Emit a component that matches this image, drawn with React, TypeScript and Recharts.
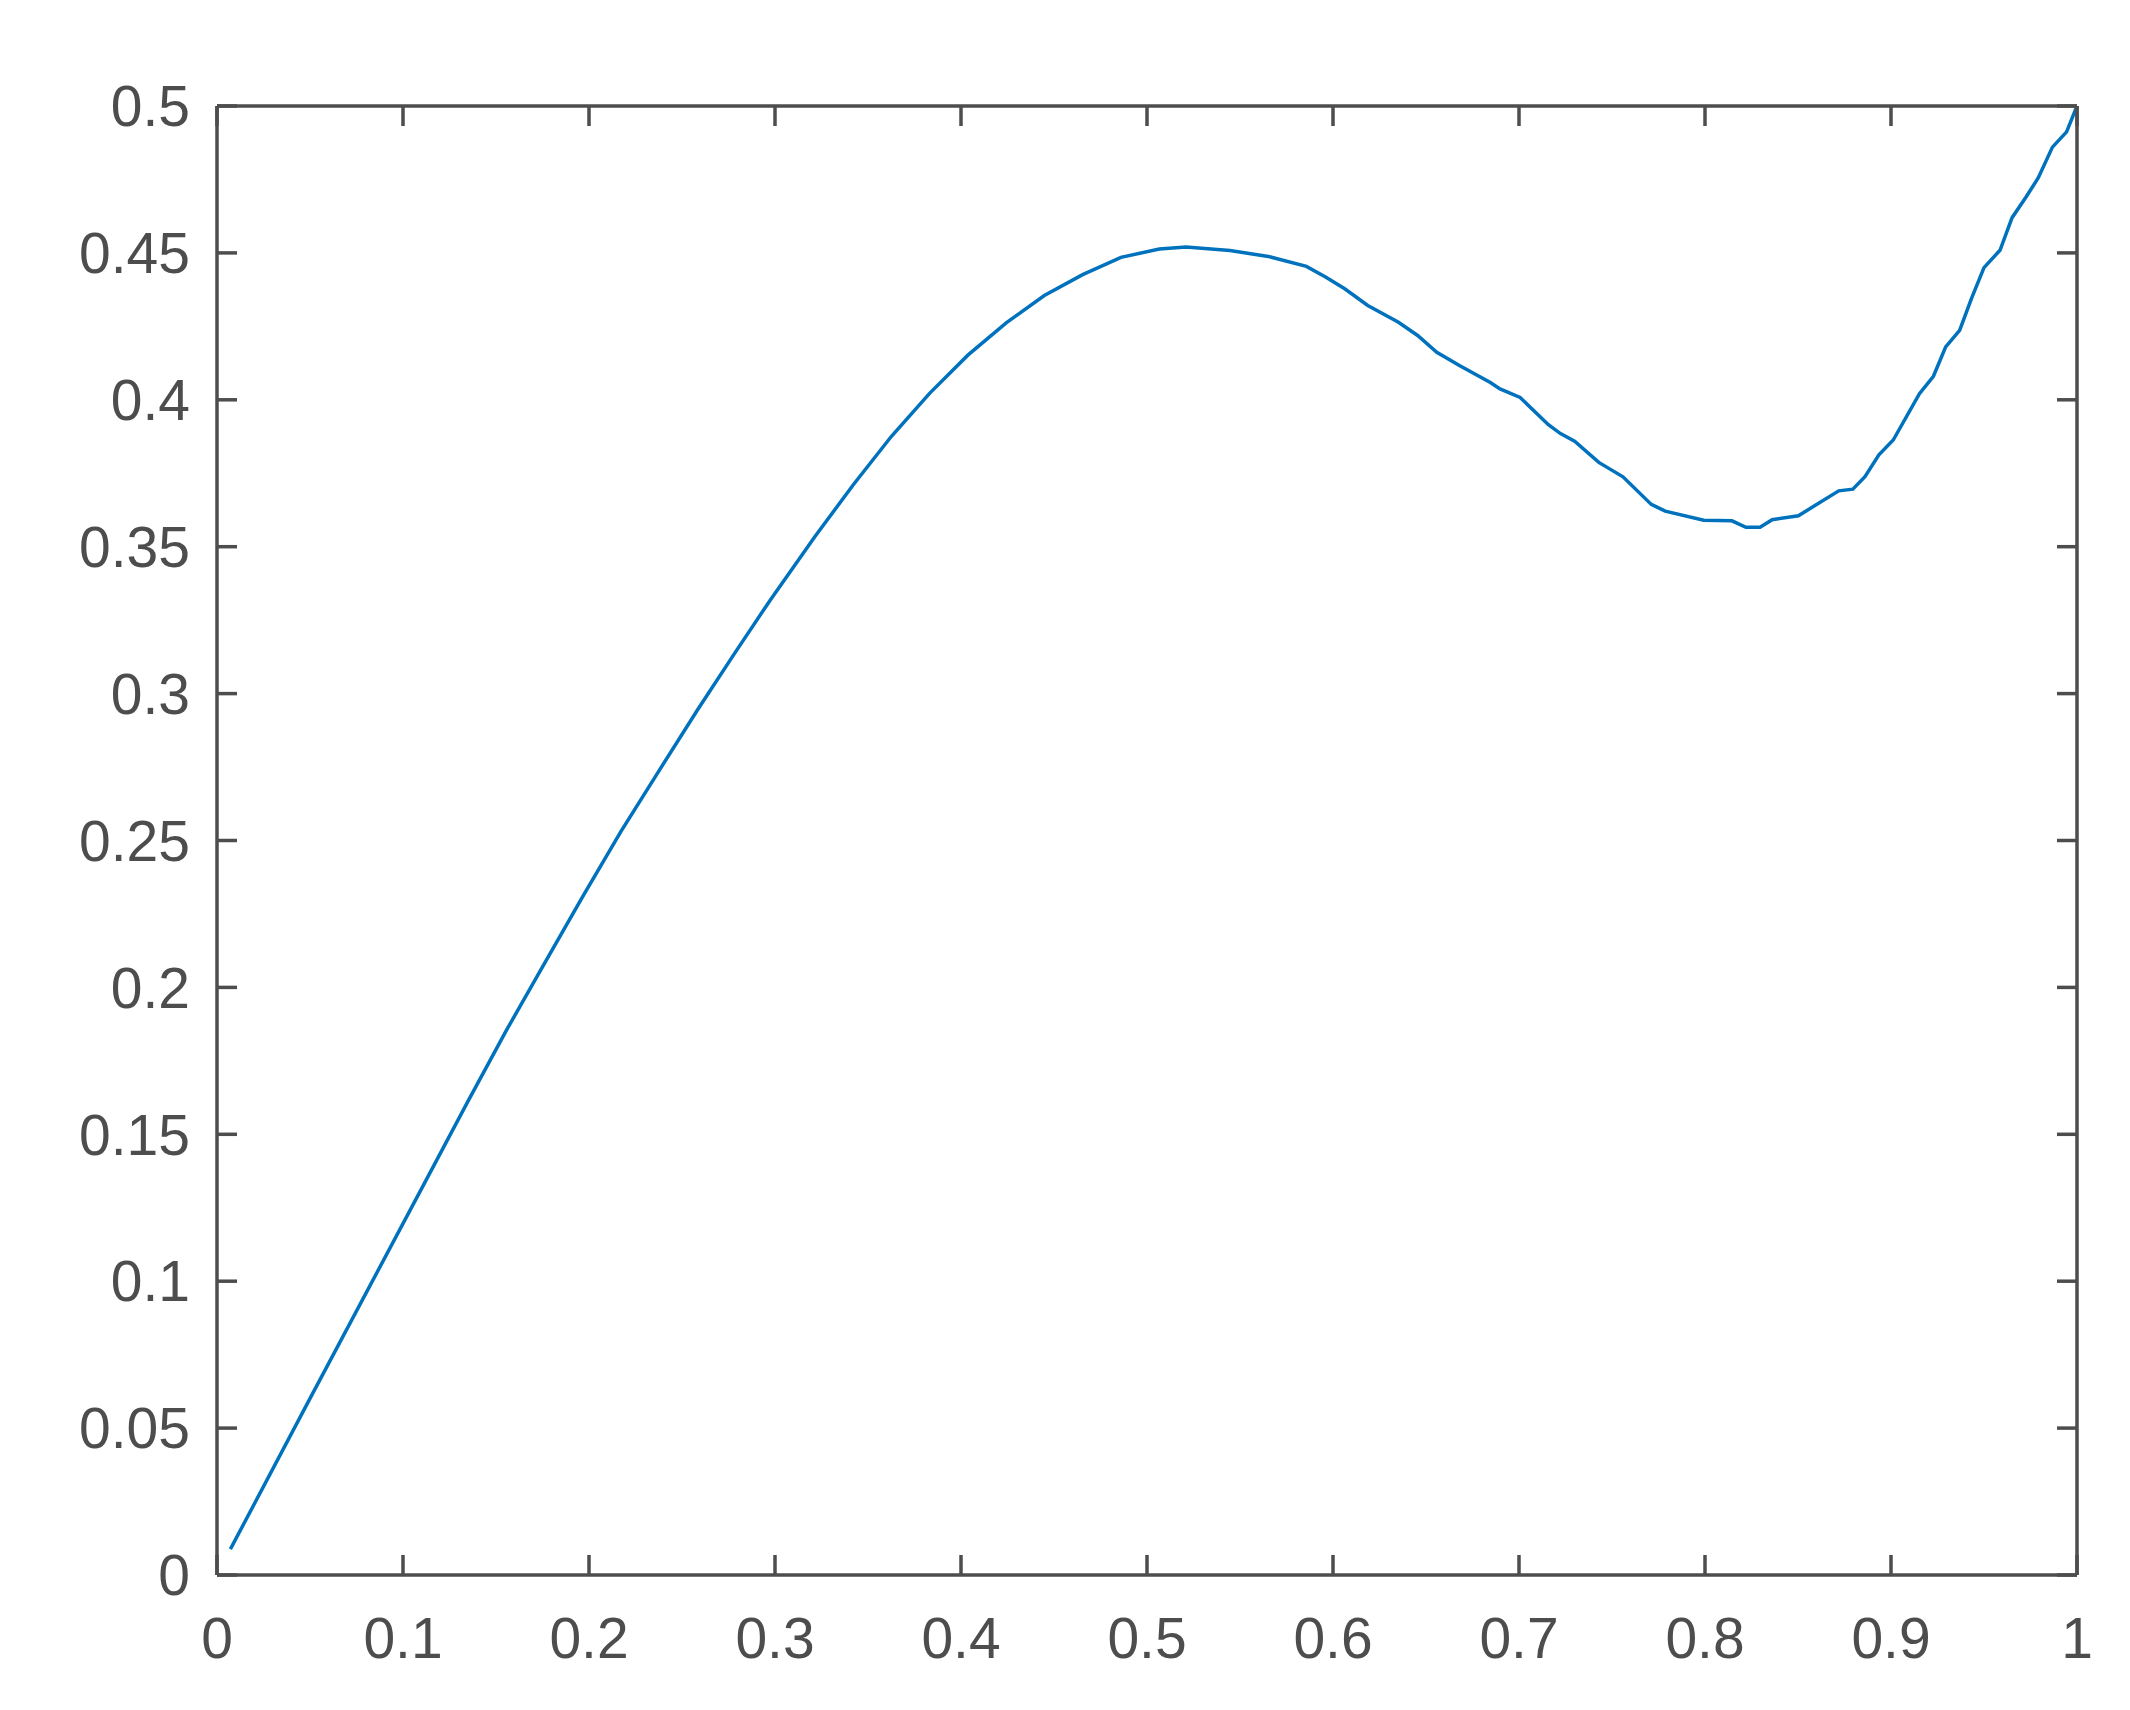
import React from "react";
import { LineChart, Line, XAxis, YAxis } from "recharts";

// values
const xValues = [
  0.0072, 0.0496, 0.1067, 0.1349, 0.1555, 0.176, 0.1966, 0.2172, 0.2377,
  0.2583, 0.2789, 0.2974, 0.3214, 0.342, 0.3625, 0.3831, 0.4037, 0.4243,
  0.4448, 0.4654, 0.486, 0.5066, 0.521, 0.5446, 0.5652, 0.5857, 0.596,
  0.6063, 0.6187, 0.6352, 0.6455, 0.6558, 0.6682, 0.6846, 0.6898, 0.7006,
  0.7158, 0.7223, 0.7299, 0.7429, 0.7559, 0.7711, 0.7786, 0.7993, 0.8145,
  0.822, 0.8296, 0.8361, 0.8502, 0.8578, 0.8719, 0.8795, 0.886, 0.8935,
  0.9012, 0.9153, 0.9228, 0.9294, 0.9369, 0.9434, 0.95, 0.9586, 0.9651,
  0.9727, 0.9792, 0.9868, 0.9944, 1.0,
];

const yValues = [
  0.0088, 0.0596, 0.1276, 0.1612, 0.1853, 0.2081, 0.2309, 0.2531, 0.2738,
  0.2944, 0.3143, 0.3318, 0.3534, 0.371, 0.3875, 0.4022, 0.4152, 0.4262,
  0.4355, 0.4426, 0.4485, 0.4513, 0.452, 0.4508, 0.4488, 0.4454, 0.4418,
  0.4378, 0.4321, 0.4264, 0.4219, 0.4162, 0.4116, 0.4059, 0.4037, 0.4008,
  0.3915, 0.3885, 0.3859, 0.3787, 0.3738, 0.3644, 0.3621, 0.359, 0.3588,
  0.3566, 0.3566, 0.3592, 0.3605, 0.3635, 0.369, 0.3696, 0.3738, 0.3813,
  0.3863, 0.4021, 0.408, 0.418, 0.4236, 0.4347, 0.445, 0.4509, 0.462,
  0.4691, 0.4756, 0.486, 0.4912, 0.5,
];

const xTicks = [0, 0.1, 0.2, 0.3, 0.4, 0.5, 0.6, 0.7, 0.8, 0.9, 1];
const yTicks = [0, 0.05, 0.1, 0.15, 0.2, 0.25, 0.3, 0.35, 0.4, 0.45, 0.5];

const chartData = xValues.map((x, i) => ({ x, y: yValues[i] }));

const axisColor = "#4d4d4d";
const lineColor = "#0072bd";
const font = "'Liberation Sans', Arial, Helvetica, sans-serif";

const axisLine = { stroke: axisColor, strokeWidth: 3.5 };
const tickStyle = { fill: axisColor, fontSize: 57, fontFamily: font };

// box sides: tick marks only, no labels
const NoLabel = () => <g />;

export default function App() {
  return (
    <div style={{ width: 2114, height: 1694, background: "#fff" }}>
      <LineChart
        width={2114}
        height={1694}
        data={chartData}
        margin={{ top: 97, right: 44, left: 9, bottom: 27 }}
      >
        <XAxis
          dataKey="x"
          type="number"
          domain={[0, 1]}
          ticks={xTicks}
          interval={0}
          height={100}
          stroke={axisColor}
          axisLine={axisLine}
          tickLine={axisLine}
          tickSize={-20}
          tickMargin={63}
          tick={tickStyle}
          tickFormatter={(v: number) => String(v)}
        />
        <XAxis
          xAxisId="top"
          orientation="top"
          dataKey="x"
          type="number"
          domain={[0, 1]}
          ticks={xTicks}
          interval={0}
          height={1}
          stroke={axisColor}
          axisLine={axisLine}
          tickLine={axisLine}
          tickSize={-20}
          tick={NoLabel}
        />
        <YAxis
          type="number"
          domain={[0, 0.5]}
          ticks={yTicks}
          interval={0}
          width={200}
          stroke={axisColor}
          axisLine={axisLine}
          tickLine={axisLine}
          tickSize={-20}
          tickMargin={47}
          tick={tickStyle}
          tickFormatter={(v: number) => String(v)}
        />
        <YAxis
          yAxisId="right"
          orientation="right"
          dataKey="y"
          type="number"
          domain={[0, 0.5]}
          ticks={yTicks}
          interval={0}
          width={1}
          stroke={axisColor}
          axisLine={axisLine}
          tickLine={axisLine}
          tickSize={-20}
          tick={NoLabel}
        />
        <Line
          type="linear"
          dataKey="y"
          stroke={lineColor}
          strokeWidth={3.5}
          dot={false}
          isAnimationActive={false}
        />
      </LineChart>
    </div>
  );
}
